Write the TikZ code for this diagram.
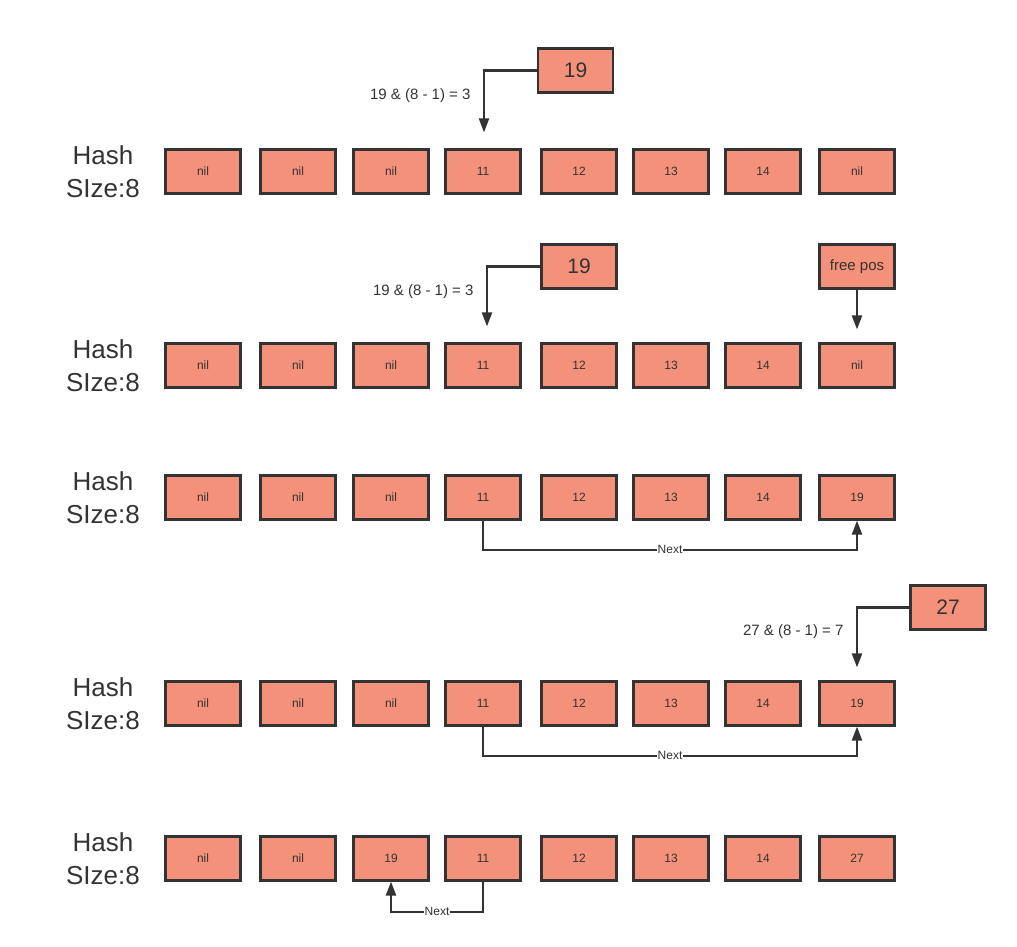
\documentclass[tikz,border=0pt]{standalone}
\usepackage{fontspec}
\setmainfont{Liberation Sans}
\usepackage{tikz}
\usetikzlibrary{arrows.meta,positioning,calc}

\definecolor{cellfill}{HTML}{F4917A}
\definecolor{ink}{HTML}{333333}

\tikzset{
    cell/.style={draw=ink, line width=2.2pt, fill=cellfill, text=ink, inner sep=0pt,
        minimum width=75pt, minimum height=44pt, font=\fontsize{12}{14}\selectfont},
    keybox/.style={cell, font=\fontsize{21}{24}\selectfont},
    hashlbl/.style={text=ink, align=center, font=\fontsize{26}{33}\selectfont},
    calclbl/.style={text=ink, font=\fontsize{15}{18}\selectfont},
    link/.style={draw=ink, line width=2.2pt, -{Triangle[length=14pt, width=10pt]}},
    nextlbl/.style={fill=white, text=ink, inner sep=1pt, font=\fontsize{12}{14}\selectfont}
}

\begin{document}
\begin{tikzpicture}[x=1pt, y=-1pt]
    \useasboundingbox (0,0) rectangle (1017,946);

    % Row 1: insert 19
    \node[hashlbl] (h1) at (103, 171.5) {Hash\\SIze:8};
    \node[cell] (r1c0) at (203, 171.5) {nil};
    \node[cell] (r1c1) at (298, 171.5) {nil};
    \node[cell] (r1c2) at (391, 171.5) {nil};
    \node[cell] (r1c3) at (483, 171.5) {11};
    \node[cell] (r1c4) at (579, 171.5) {12};
    \node[cell] (r1c5) at (671, 171.5) {13};
    \node[cell] (r1c6) at (763, 171.5) {14};
    \node[cell] (r1c7) at (857, 171.5) {nil};
    \node[keybox] (k1) at (575.5, 70.5) {19};
    \node[calclbl, anchor=east] (c1) at (474, 96) {19 \& (8 - 1) = 3};
    \draw[link, shorten >=16pt] (k1.west) -| ([xshift=1pt]r1c3.north);

    % Row 2: collision, look for free pos
    \node[hashlbl] (h2) at (103, 365.5) {Hash\\SIze:8};
    \node[cell] (r2c0) at (203, 365.5) {nil};
    \node[cell] (r2c1) at (298, 365.5) {nil};
    \node[cell] (r2c2) at (391, 365.5) {nil};
    \node[cell] (r2c3) at (483, 365.5) {11};
    \node[cell] (r2c4) at (579, 365.5) {12};
    \node[cell] (r2c5) at (671, 365.5) {13};
    \node[cell] (r2c6) at (763, 365.5) {14};
    \node[cell] (r2c7) at (857, 365.5) {nil};
    \node[keybox] (k2) at (579, 266.5) {19};
    \node[cell, font=\fontsize{15}{18}\selectfont] (fp) at (857, 266.5) {free pos};
    \node[calclbl, anchor=east] (c2) at (477, 292) {19 \& (8 - 1) = 3};
    \draw[link, shorten >=16pt] (k2.west) -| ([xshift=4pt]r2c3.north);
    \draw[link, shorten >=13pt] (fp) -- (r2c7);

    % Row 3: 19 stored at free pos
    \node[hashlbl] (h3) at (103, 497.5) {Hash\\SIze:8};
    \node[cell] (r3c0) at (203, 497.5) {nil};
    \node[cell] (r3c1) at (298, 497.5) {nil};
    \node[cell] (r3c2) at (391, 497.5) {nil};
    \node[cell] (r3c3) at (483, 497.5) {11};
    \node[cell] (r3c4) at (579, 497.5) {12};
    \node[cell] (r3c5) at (671, 497.5) {13};
    \node[cell] (r3c6) at (763, 497.5) {14};
    \node[cell] (r3c7) at (857, 497.5) {19};
    \draw[link] (r3c3.south) -- ++(0,29) -| node[nextlbl, pos=0.25] {Next} (r3c7.south);

    % Row 4: insert 27
    \node[hashlbl] (h4) at (103, 703.5) {Hash\\SIze:8};
    \node[cell] (r4c0) at (203, 703.5) {nil};
    \node[cell] (r4c1) at (298, 703.5) {nil};
    \node[cell] (r4c2) at (391, 703.5) {nil};
    \node[cell] (r4c3) at (483, 703.5) {11};
    \node[cell] (r4c4) at (579, 703.5) {12};
    \node[cell] (r4c5) at (671, 703.5) {13};
    \node[cell] (r4c6) at (763, 703.5) {14};
    \node[cell] (r4c7) at (857, 703.5) {19};
    \node[keybox] (k4) at (948, 607.5) {27};
    \node[calclbl, anchor=east] (c4) at (847, 632) {27 \& (8 - 1) = 7};
    \draw[link, shorten >=13pt] (k4.west) -| (r4c7.north);
    \draw[link] (r4c3.south) -- ++(0,29) -| node[nextlbl, pos=0.25] {Next} (r4c7.south);

    % Row 5: 19 moved, 27 in its own bucket
    \node[hashlbl] (h5) at (103, 858.5) {Hash\\SIze:8};
    \node[cell] (r5c0) at (203, 858.5) {nil};
    \node[cell] (r5c1) at (298, 858.5) {nil};
    \node[cell] (r5c2) at (391, 858.5) {19};
    \node[cell] (r5c3) at (483, 858.5) {11};
    \node[cell] (r5c4) at (579, 858.5) {12};
    \node[cell] (r5c5) at (671, 858.5) {13};
    \node[cell] (r5c6) at (763, 858.5) {14};
    \node[cell] (r5c7) at (857, 858.5) {27};
    \draw[link] (r5c3.south) -- ++(0,30) -| node[nextlbl, pos=0.25] {Next} (r5c2.south);
\end{tikzpicture}
\end{document}
